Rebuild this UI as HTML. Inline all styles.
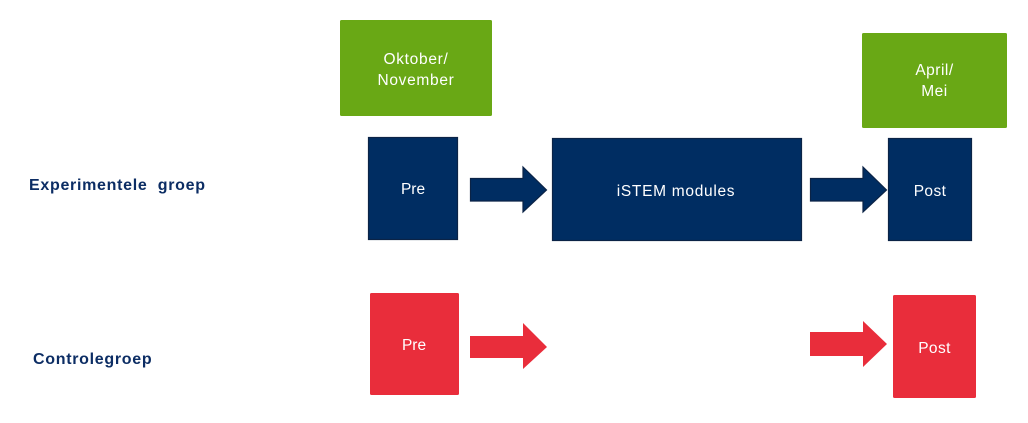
<!DOCTYPE html>
<html><head><meta charset="utf-8"><style>
html,body{margin:0;padding:0;background:#fff;}
svg{display:block;}
text{font-family:"Liberation Sans",sans-serif;}
</style></head><body>
<svg width="1028" height="423" viewBox="0 0 1028 423" xmlns="http://www.w3.org/2000/svg">
<rect x="0" y="0" width="1028" height="423" fill="#fff"/>
<!-- green boxes -->
<rect x="340" y="20" width="152" height="96" rx="1.5" fill="#69a815"/>
<text x="416" y="64" font-size="15.5" letter-spacing="0.7" fill="#fff" text-anchor="middle">Oktober/</text>
<text x="416" y="85" font-size="15.5" letter-spacing="0.7" fill="#fff" text-anchor="middle">November</text>
<rect x="862" y="33" width="145" height="95" rx="1.5" fill="#69a815"/>
<text x="934.5" y="75" font-size="15.5" letter-spacing="0.5" fill="#fff" text-anchor="middle">April/</text>
<text x="934.5" y="96" font-size="15.5" letter-spacing="0.5" fill="#fff" text-anchor="middle">Mei</text>
<!-- navy row -->
<rect x="368.5" y="137.5" width="89" height="102" fill="#002d62" stroke="#0b2346" stroke-width="1.2"/>
<text x="413" y="194" font-size="15.5" fill="#fff" text-anchor="middle">Pre</text>
<polygon points="470.5,178.5 523,178.5 523,167 546.5,190 523,212 523,201 470.5,201" fill="#002d62" stroke="#0b2346" stroke-width="1.2"/>
<rect x="552.5" y="138.5" width="249" height="102" fill="#002d62" stroke="#0b2346" stroke-width="1.2"/>
<text x="676" y="196" font-size="15.5" letter-spacing="0.7" fill="#fff" text-anchor="middle">iSTEM modules</text>
<polygon points="810.5,178.5 863,178.5 863,167 886.5,190 863,212 863,201 810.5,201" fill="#002d62" stroke="#0b2346" stroke-width="1.2"/>
<rect x="888.5" y="138.5" width="83" height="102" fill="#002d62" stroke="#0b2346" stroke-width="1.2"/>
<text x="930" y="196" font-size="15.5" letter-spacing="0.4" fill="#fff" text-anchor="middle">Post</text>
<!-- red row -->
<rect x="370" y="293" width="89" height="102" rx="1.5" fill="#e92d3b"/>
<text x="414" y="350" font-size="15.5" fill="#fff" text-anchor="middle">Pre</text>
<polygon points="470,336 523,336 523,323 547,347 523,369 523,358 470,358" fill="#e92d3b"/>
<polygon points="810,332 863,332 863,321 887,344 863,367 863,356 810,356" fill="#e92d3b"/>
<rect x="893" y="295" width="83" height="103" rx="1.5" fill="#e92d3b"/>
<text x="934.5" y="353" font-size="15.5" letter-spacing="0.4" fill="#fff" text-anchor="middle">Post</text>
<!-- labels -->
<text x="29" y="190" font-size="16" font-weight="bold" letter-spacing="0.7" fill="#0c2d64" xml:space="preserve">Experimentele  groep</text>
<text x="33" y="364" font-size="16" font-weight="bold" letter-spacing="0.7" fill="#0c2d64">Controlegroep</text>
</svg>
</body></html>
